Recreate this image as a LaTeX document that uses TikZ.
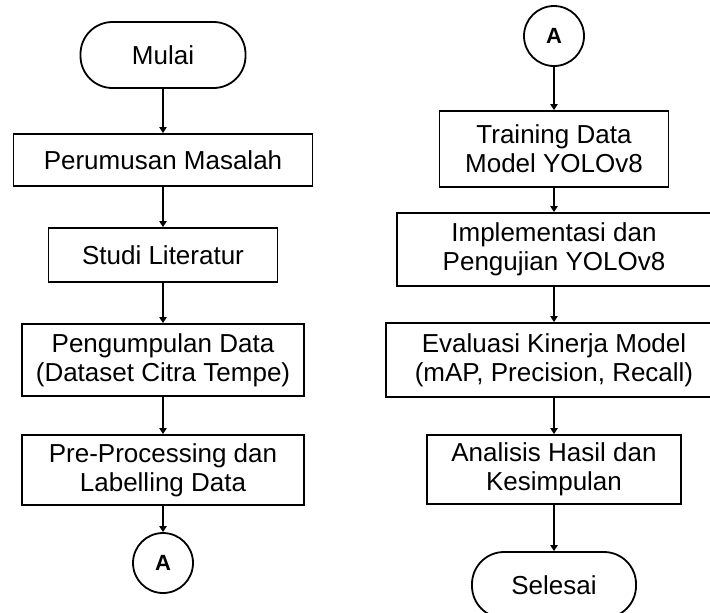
\documentclass[tikz,border=0pt]{standalone}
\usepackage{fontspec}
\setmainfont{Liberation Sans}
\usetikzlibrary{arrows.meta, positioning, shapes.geometric}

\tikzset{
  proses/.style={draw, line width=0.9pt, rectangle, align=center, inner sep=0pt},
  terminal/.style={draw, line width=0.9pt, rectangle, rounded corners=16pt, inner sep=0pt, minimum height=33pt},
  konektor/.style={draw, line width=0.9pt, circle, inner sep=0pt, minimum size=30pt, font=\fontsize{11}{13}\selectfont\bfseries},
  alur/.style={-{Triangle[width=3.6pt,length=3pt]}, line width=0.8pt}
}

\begin{document}
\begin{tikzpicture}[x=0.5pt, y=-0.5pt, font=\fontsize{13}{14.6}\selectfont]
\useasboundingbox (0,0) rectangle (710,612);

% kolom kiri
\node[terminal, minimum width=82.5pt] (mulai) at (163, 55) {Mulai};
\node[proses, minimum width=149.5pt, minimum height=26pt] (rumusan) at (163, 160) {Perumusan Masalah};
\node[proses, minimum width=114.5pt, minimum height=27pt] (studi) at (163, 255) {Studi Literatur};
\node[proses, minimum width=141pt, minimum height=36pt] (kumpul) at (163, 360) {Pengumpulan Data\\(Dataset Citra Tempe)};
\node[proses, minimum width=141pt, minimum height=35pt] (preproc) at (163, 470) {Pre-Processing dan\\Labelling Data};
\node[konektor] (konA) at (163, 563) {A};

% kolom kanan
\node[konektor] (konB) at (554, 36) {A};
\node[proses, minimum width=114.5pt, minimum height=38pt] (training) at (554, 149) {Training Data\\Model YOLOv8};
\node[proses, minimum width=157pt, minimum height=36.5pt] (uji) at (554, 249.5) {Implementasi dan\\Pengujian YOLOv8};
\node[proses, minimum width=168pt, minimum height=37pt] (evaluasi) at (554, 360) {Evaluasi Kinerja Model\\(mAP, Precision, Recall)};
\node[proses, minimum width=127pt, minimum height=34.5pt] (analisis) at (554, 469.5) {Analisis Hasil dan\\Kesimpulan};
\node[terminal, minimum width=82pt] (selesai) at (554, 585) {Selesai};

\draw[alur] (mulai) -- (rumusan);
\draw[alur] (rumusan) -- (studi);
\draw[alur] (studi) -- (kumpul);
\draw[alur] (kumpul) -- (preproc);
\draw[alur] (preproc) -- (konA);

\draw[alur] (konB) -- (training);
\draw[alur] (training) -- (uji);
\draw[alur] (uji) -- (evaluasi);
\draw[alur] (evaluasi) -- (analisis);
\draw[alur] (analisis) -- (selesai);
\end{tikzpicture}
\end{document}
